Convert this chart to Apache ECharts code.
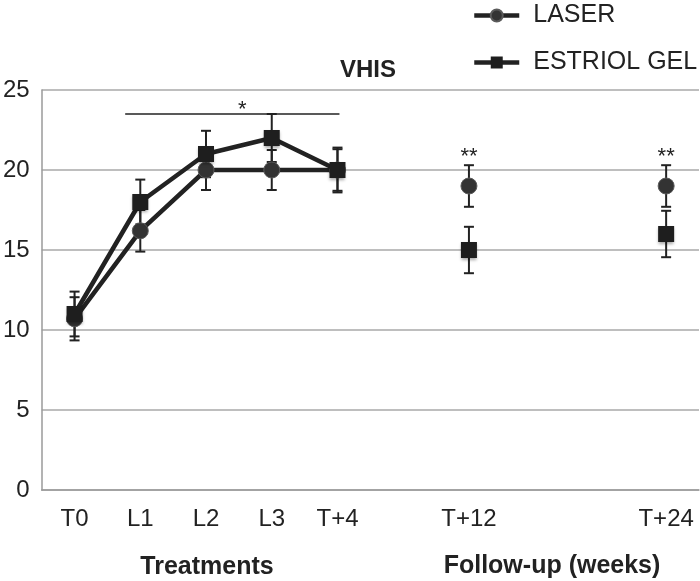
<!DOCTYPE html>
<html>
<head>
<meta charset="utf-8">
<script src="https://cdn.jsdelivr.net/npm/echarts@6/dist/echarts.min.js"></script>
<style>html,body{margin:0;padding:0;background:#fff}#c{width:700px;height:581px}</style>
</head>
<body>
<div id="c"></div>
<script>
// ---- data ----
const categories = ['T0', 'L1', 'L2', 'L3', 'T+4', '', 'T+12', '', '', 'T+24'];
const laserMean   = [10.7, 16.2, 20.0, 20.0, 20.0, null, 19.0, null, null, 19.0];
const laserErr    = [1.35, 1.3, 1.25, 1.25, 1.3, null, 1.3, null, null, 1.3];
const estriolMean = [11.0, 18.0, 21.0, 22.0, 20.0, null, 15.0, null, null, 16.0];
const estriolErr  = [1.4, 1.4, 1.45, 1.5, 1.4, null, 1.45, null, null, 1.45];
const yMin = 0, yMax = 25, yStep = 5;
// significance annotations
const sigFrom = 'L1', sigTo = 'T+4', sigY = 23.5;
const starTexts = ['*', '**', '**'];
const starCats  = ['L2', 'T+12', 'T+24'];
const starY     = [23.75, 20.8, 20.8];

const FONT = "'Liberation Sans', Arial, Helvetica, sans-serif";
const INK = '#222';

function errData(mean, err) {
  const out = [];
  mean.forEach((m, i) => { if (m != null) out.push([i, m - err[i], m + err[i]]); });
  return out;
}
function errSeries(mean, err) {
  return {
    type: 'custom',
    silent: true,
    z: 1,
    encode: { x: 0, y: [1, 2] },
    data: errData(mean, err),
    renderItem: function (params, api) {
      const x = api.value(0);
      const lo = api.coord([x, api.value(1)]);
      const hi = api.coord([x, api.value(2)]);
      const hw = 5;
      const st = { stroke: INK, lineWidth: 2 };
      return {
        type: 'group',
        children: [
          { type: 'line', shape: { x1: lo[0], y1: lo[1], x2: hi[0], y2: hi[1] }, style: st },
          { type: 'line', shape: { x1: lo[0] - hw, y1: lo[1], x2: lo[0] + hw, y2: lo[1] }, style: st },
          { type: 'line', shape: { x1: hi[0] - hw, y1: hi[1], x2: hi[0] + hw, y2: hi[1] }, style: st }
        ]
      };
    }
  };
}

const annotSeries = {
  type: 'custom',
  silent: true,
  z: 5,
  data: [[0, 0]],
  renderItem: function (params, api) {
    const band = api.size([1, 0])[0];
    const a = api.coord([categories.indexOf(sigFrom), sigY]);
    const b = api.coord([categories.indexOf(sigTo), sigY]);
    const children = [
      { type: 'line', shape: { x1: a[0] - 0.23 * band, y1: a[1], x2: b[0] + 0.03 * band, y2: b[1] },
        style: { stroke: INK, lineWidth: 1.5 } }
    ];
    starTexts.forEach((t, i) => {
      const p = api.coord([categories.indexOf(starCats[i]), starY[i]]);
      const dx = (t === '*') ? 0.55 * band : 0;
      children.push({
        type: 'text',
        style: { text: t, x: p[0] + dx, y: p[1], align: 'center', verticalAlign: 'middle',
                 font: '22px ' + FONT, fill: INK }
      });
    });
    return { type: 'group', children: children };
  }
};

const chart = echarts.init(document.getElementById('c'), null, { renderer: 'canvas' });
chart.setOption({
  backgroundColor: '#fff',
  animation: false,
  title: {
    text: 'VHIS', left: 340, top: 58, padding: 0,
    textStyle: { fontFamily: FONT, fontSize: 24, fontWeight: 'bold', color: INK }
  },
  legend: {
    orient: 'vertical', left: 472, top: 3, padding: 0,
    itemWidth: 45, itemHeight: 15, itemGap: 22,
    data: ['LASER', 'ESTRIOL GEL'],
    lineStyle: { color: INK, width: 4.5 },
    textStyle: { fontFamily: FONT, fontSize: 25, color: INK, padding: [0, 0, 0, 9] }
  },
  grid: { left: 39, right: 1, top: 90, bottom: 91, containLabel: false },
  xAxis: {
    type: 'category', data: categories, boundaryGap: true,
    axisLine: { show: true, lineStyle: { color: '#9a9a9a', width: 1.5 } },
    axisTick: { show: false },
    axisLabel: { interval: 0, margin: 17, fontFamily: FONT, fontSize: 24, color: INK },
    splitLine: { show: false }
  },
  yAxis: {
    type: 'value', min: yMin, max: yMax, interval: yStep,
    axisLine: { show: true, lineStyle: { color: '#9a9a9a', width: 1.5 } },
    axisTick: { show: false },
    axisLabel: { margin: 12, fontFamily: FONT, fontSize: 24, color: INK },
    splitLine: { show: true, lineStyle: { color: '#a8a8a8', width: 1.5 } }
  },
  graphic: [
    { type: 'text', x: 207, y: 567, style: { text: 'Treatments', align: 'center', verticalAlign: 'middle',
      font: 'bold 25px ' + FONT, fill: INK } },
    { type: 'text', x: 552, y: 566, style: { text: 'Follow-up (weeks)', align: 'center', verticalAlign: 'middle',
      font: 'bold 25px ' + FONT, fill: INK } }
  ],
  series: [
    errSeries(laserMean, laserErr),
    errSeries(estriolMean, estriolErr),
    {
      name: 'LASER', type: 'line', data: laserMean, connectNulls: false, z: 3,
      symbol: 'circle', symbolSize: 16,
      lineStyle: { color: INK, width: 4.5 },
      itemStyle: { color: '#333', borderColor: '#5a5a5a', borderWidth: 1 }
    },
    {
      name: 'ESTRIOL GEL', type: 'line', data: estriolMean, connectNulls: false, z: 4,
      symbol: 'rect', symbolSize: 16,
      lineStyle: { color: INK, width: 4.5 },
      itemStyle: { color: '#1e1e1e', shadowBlur: 3, shadowColor: 'rgba(0,0,0,0.35)', shadowOffsetY: 2 }
    },
    annotSeries
  ]
});
</script>
</body>
</html>
